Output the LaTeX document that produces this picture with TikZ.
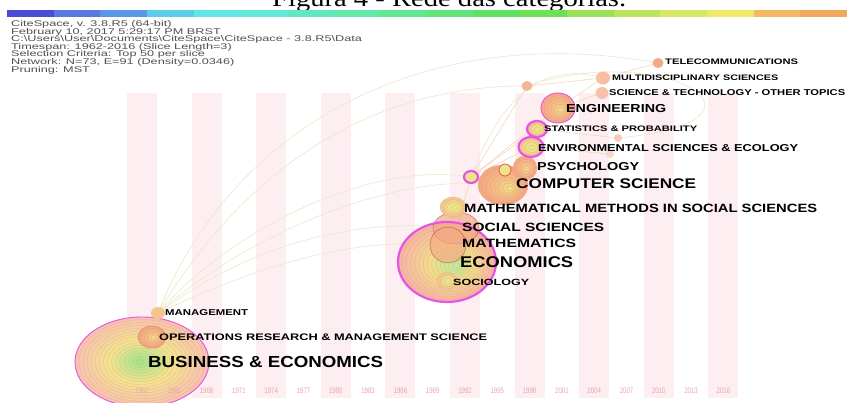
\documentclass[tikz,border=0pt]{standalone}
\usepackage{fontspec}
\setmainfont{Liberation Sans}
\newfontfamily\serifT{Liberation Serif}
\usepackage{graphicx}
% palettes for tree rings
\definecolor{busout}{HTML}{F6C2B2}\definecolor{busmid}{HTML}{F2E48E}\definecolor{busin}{HTML}{96E68E}\definecolor{busline}{HTML}{E8A080}
\definecolor{econout}{HTML}{F5B4A4}\definecolor{econmid}{HTML}{F2DC8C}\definecolor{econin}{HTML}{B4EE9C}\definecolor{econline}{HTML}{E89C80}
\definecolor{orgout}{HTML}{F4A884}\definecolor{orgmid}{HTML}{F4C088}\definecolor{orgin}{HTML}{EEEA86}\definecolor{orgline}{HTML}{E09070}
\definecolor{yelout}{HTML}{F3C690}\definecolor{yelmid}{HTML}{EEE48A}\definecolor{yelin}{HTML}{D8F090}\definecolor{yelline}{HTML}{E0A070}
\definecolor{magc}{HTML}{E654E6}
\definecolor{stripec}{HTML}{FDEEF1}
\definecolor{edgec}{HTML}{ECE8C6}
\definecolor{edgeo}{HTML}{F4D4B4}
\definecolor{infoc}{HTML}{505050}
\definecolor{yearc}{HTML}{EBA4AD}
\newcommand{\treerings}[8]{%
  \foreach \i in {#7,...,1}{%
    \pgfmathsetmacro{\rt}{\i/#7}%
    \pgfmathsetmacro{\ccx}{#1+#5*(1-\rt)}%
    \pgfmathsetmacro{\ccy}{#2+#6*(1-\rt)}%
    \pgfmathsetmacro{\rxx}{#3*\rt}%
    \pgfmathsetmacro{\ryy}{#4*\rt}%
    \pgfmathtruncatemacro{\pa}{max(0,min(100,(\rt-0.5)*200))}%
    \pgfmathtruncatemacro{\pb}{max(0,min(100,\rt*200))}%
    \ifdim\rt pt>0.5pt\colorlet{ringc}{#8out!\pa!#8mid}\else\colorlet{ringc}{#8mid!\pb!#8in}\fi
    \fill[ringc] (\ccx,\ccy) ellipse [x radius=\rxx pt, y radius=\ryy pt];
    \draw[#8line, line width=0.35pt, opacity=0.55] (\ccx,\ccy) ellipse [x radius=\rxx pt, y radius=\ryy pt];
  }}
\newcommand{\lbtext}[3]{\fontsize{#1}{#1}\selectfont\bfseries\resizebox{#2pt}{\height}{#3}}
\newcommand{\infoline}[1]{\scalebox{1.53}[1]{#1}}
\begin{document}
\begin{tikzpicture}[x=1pt,y=-1pt,
  labtxt/.style={anchor=west, inner sep=0pt, text=black},
  infotxt/.style={anchor=base west, inner sep=0pt, text=infoc, font=\fontsize{8.3}{8.3}\selectfont},
  yearlab/.style={anchor=center, inner sep=0pt, text=yearc, font=\fontsize{8}{8}\selectfont},
  edgeline/.style={draw=edgec, line width=0.6pt},
  edgeor/.style={draw=edgeo, line width=0.55pt},
  magthick/.style={draw=magc, line width=2.2pt},
  magthin/.style={draw=magc, line width=0.9pt}]
\useasboundingbox (0,0) rectangle (847,403);
\clip (0,0) rectangle (847,403);
\fill[white] (0,0) rectangle (847,403);

% title (cut at the top, as in the reference)
\node[anchor=base west, inner sep=0pt] (title) at (272,7) {\serifT\fontsize{24}{24}\selectfont\resizebox{354pt}{\height}{Figura 4 - Rede das categorias.}};

% colour bar
\foreach \c [count=\k from 0] in {4A4CD4,5A78E0,5C96E6,5CCCE8,62E6E6,62E8D6,62E8C0,62E8A8,62E690,62E478,60E060,6EE058,98E25A,B8E460,D6E866,F0E868,F2B864,F0A85C}{
  \definecolor{barc}{HTML}{\c}
  \fill[barc] ({7+46.67*\k},10) rectangle ({7+46.67*(\k+1)+0.3},17);
}

% info text
\node[infotxt] (i1) at (11,26.5) {\infoline{CiteSpace, v. 3.8.R5 (64-bit)}};
\node[infotxt] (i2) at (11,34.1) {\infoline{February 10, 2017 5:29:17 PM BRST}};
\node[infotxt] (i3) at (11,41.7) {\infoline{C:\textbackslash Users\textbackslash User\textbackslash Documents\textbackslash CiteSpace\textbackslash CiteSpace - 3.8.R5\textbackslash Data}};
\node[infotxt] (i4) at (11,49.3) {\infoline{Timespan: 1962-2016 (Slice Length=3)}};
\node[infotxt] (i5) at (11,56.9) {\infoline{Selection Criteria: Top 50 per slice}};
\node[infotxt] (i6) at (11,64.5) {\infoline{Network: N=73, E=91 (Density=0.0346)}};
\node[infotxt] (i7) at (11,72.1) {\infoline{Pruning: MST}};

% time stripes
\foreach \k in {0,...,9}{
  \fill[stripec] ({142+64.6*\k-15},93) rectangle ({142+64.6*\k+15},398);
}

% node positions
\coordinate (bus) at (142,362);
\coordinate (ops) at (152,337);
\coordinate (mgmt) at (158,313);
\coordinate (econ) at (447,262);
\coordinate (soc) at (447,281);
\coordinate (math) at (448,245);
\coordinate (socsci) at (456,228);
\coordinate (mmss) at (453,207);
\coordinate (cs) at (503,185);
\coordinate (ring1) at (471,177);
\coordinate (ring2) at (505,170);
\coordinate (psy) at (525,168);
\coordinate (env) at (531,147);
\coordinate (stat) at (537,129);
\coordinate (eng) at (558,108);
\coordinate (small1) at (527,86);
\coordinate (sci) at (602,93);
\coordinate (multi) at (603,78);
\coordinate (tele) at (658,63);
\coordinate (dot1) at (618,138);
\coordinate (dot2) at (610,154);

% connectors
\draw[edgeline] (bus) -- (ops);
\draw[edgeline] (ops) -- (mgmt);
\draw[edgeline] (mgmt) .. controls (230,130) and (420,20) .. (tele);
\draw[edgeline] (mgmt) .. controls (250,160) and (380,85) .. (small1);
\draw[edgeline] (mgmt) .. controls (230,230) and (370,160) .. (ring1);
\draw[edgeline] (mgmt) .. controls (240,240) and (390,170) .. (cs);
\draw[edgeline] (mgmt) .. controls (230,260) and (330,215) .. (socsci);
\draw[edgeline] (mgmt) .. controls (240,275) and (340,235) .. (math);
\draw[edgeline] (small1) .. controls (660,40) and (800,120) .. (dot1);
\draw[edgeor] (ring1) -- (small1);
\draw[edgeor] (ring1) -- (eng);
\draw[edgeor] (ring1) -- (stat);
\draw[edgeor] (ring1) -- (env);
\draw[edgeline] (ring1) .. controls (500,100) and (540,60) .. (multi);
\draw[edgeor] (eng) -- (sci);
\draw[edgeor] (eng) -- (multi);
\draw[edgeor] (multi) -- (tele);
\draw[edgeor] (small1) -- (multi);
\draw[edgeor] (env) -- (dot2);
\draw[edgeor] (stat) -- (dot1);
\draw[edgeor] (econ) -- (ring1);

% BUSINESS & ECONOMICS
\treerings{142}{362}{67}{45}{-2}{0}{16}{bus}
\draw[magthin] (bus) ellipse [x radius=67pt, y radius=45pt];
% operations research
\treerings{152}{337}{14}{11}{2}{1}{5}{org}
\draw[draw=orgline, line width=0.6pt] (ops) ellipse [x radius=14pt, y radius=11pt];
% management
\fill[yelout] (mgmt) ellipse [x radius=7pt, y radius=6pt];

% ECONOMICS cluster
\treerings{447}{262}{49}{40}{10}{4}{14}{econ}
\fill[orgout, opacity=0.7] (socsci) ellipse [x radius=23pt, y radius=16pt];
\draw[draw=orgline!70!red!60!black, line width=0.5pt, opacity=0.6] (socsci) ellipse [x radius=23pt, y radius=16pt];
\fill[orgout, opacity=0.65] (math) ellipse [x radius=18pt, y radius=18pt];
\draw[draw=orgline!70!red!60!black, line width=0.5pt, opacity=0.6] (math) ellipse [x radius=18pt, y radius=18pt];
\treerings{453}{207}{13}{10}{2}{1}{4}{yel}
\treerings{447}{281}{10}{8.5}{1}{0}{3}{yel}
\draw[magthick] (econ) ellipse [x radius=49pt, y radius=40pt];

% COMPUTER SCIENCE and upper nodes
\treerings{503}{185}{25}{20}{8}{4}{8}{org}
\fill[yelmid] (ring2) circle [radius=6pt];
\draw[draw=orgline!60!red, line width=0.8pt] (ring2) circle [radius=6pt];
\treerings{525}{168}{12}{12}{2}{1}{4}{org}
\fill[yelmid] (ring1) ellipse [x radius=7pt, y radius=6pt];
\draw[magthick] (ring1) ellipse [x radius=7pt, y radius=6pt];
\treerings{531}{147}{12.5}{10}{1}{1}{4}{yel}
\draw[magthick] (env) ellipse [x radius=12.5pt, y radius=10pt];
\treerings{537}{129}{10}{8}{1}{1}{3}{yel}
\draw[magthick] (stat) ellipse [x radius=10pt, y radius=8pt];
\treerings{558}{108}{17}{15}{3}{2}{6}{org}
\draw[magthin] (eng) ellipse [x radius=17pt, y radius=15pt];
\fill[orgout!85!white] (small1) ellipse [x radius=5.5pt, y radius=5pt];
\fill[orgout!70!white] (sci) ellipse [x radius=6.5pt, y radius=6pt];
\fill[orgout!75!white] (multi) ellipse [x radius=7pt, y radius=6.5pt];
\fill[orgout] (tele) ellipse [x radius=5.5pt, y radius=5pt];
\fill[orgout!60!white] (dot1) circle [radius=4pt];
\fill[orgout!45!white] (dot2) circle [radius=4pt];

% year labels (drawn over the circles)
\foreach \k in {0,...,18}{
  \pgfmathtruncatemacro{\yr}{1962+3*\k}
  \node[yearlab] (yr\yr) at ({142+32.3*\k},391) {\resizebox{13.5pt}{\height}{\yr}};
}

% labels
\node[labtxt] (lTele) at (665,62) {\lbtext{8}{133}{TELECOMMUNICATIONS}};
\node[labtxt] (lMulti) at (612,78) {\lbtext{8}{166}{MULTIDISCIPLINARY SCIENCES}};
\node[labtxt] (lSci) at (609,93) {\lbtext{8.5}{236}{SCIENCE \& TECHNOLOGY - OTHER TOPICS}};
\node[labtxt] (lEng) at (566,109) {\lbtext{11.6}{100}{ENGINEERING}};
\node[labtxt] (lStat) at (544,129) {\lbtext{8}{153}{STATISTICS \& PROBABILITY}};
\node[labtxt] (lEnv) at (538,148) {\lbtext{10}{260}{ENVIRONMENTAL SCIENCES \& ECOLOGY}};
\node[labtxt] (lPsy) at (537,167) {\lbtext{11.5}{102}{PSYCHOLOGY}};
\node[labtxt] (lCS) at (516,184) {\lbtext{14}{180}{COMPUTER SCIENCE}};
\node[labtxt] (lMMSS) at (464,208) {\lbtext{12}{353}{MATHEMATICAL METHODS IN SOCIAL SCIENCES}};
\node[labtxt] (lSS) at (462,227) {\lbtext{12}{142}{SOCIAL SCIENCES}};
\node[labtxt] (lMath) at (462,243) {\lbtext{12}{114}{MATHEMATICS}};
\node[labtxt] (lEcon) at (460,262) {\lbtext{15.5}{113}{ECONOMICS}};
\node[labtxt] (lSoc) at (453,282) {\lbtext{9}{76}{SOCIOLOGY}};
\node[labtxt] (lMgmt) at (165,313) {\lbtext{8.5}{83}{MANAGEMENT}};
\node[labtxt] (lOps) at (159,337) {\lbtext{9.5}{328}{OPERATIONS RESEARCH \& MANAGEMENT SCIENCE}};
\node[labtxt] (lBus) at (148,362) {\lbtext{16}{235}{BUSINESS \& ECONOMICS}};
\end{tikzpicture}
\end{document}
